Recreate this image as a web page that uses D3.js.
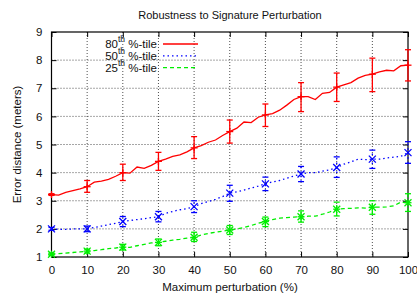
<!DOCTYPE html>
<meta charset="utf-8">
<style>
body { margin: 0; background: #fff; }
svg { font-family: "Liberation Sans", Arial, sans-serif; }
</style>
<svg width="417" height="297"></svg>
<script src="https://d3js.org/d3.v7.min.js"></script>
<script>
// perturbation levels (%), sampled every 2
var xs = d3.range(0, 101, 2);
var p80 = [3.22, 3.2, 3.3, 3.36, 3.42, 3.5, 3.66, 3.7, 3.76, 3.87, 4.0, 3.98, 4.2, 4.15, 4.26, 4.4,
  4.48, 4.58, 4.63, 4.74, 4.88, 4.96, 5.08, 5.16, 5.32, 5.46, 5.58, 5.8, 5.78, 5.97, 6.05, 6.1,
  6.22, 6.4, 6.6, 6.7, 6.7, 6.6, 6.82, 6.85, 7.04, 7.12, 7.2, 7.36, 7.46, 7.5, 7.58, 7.64, 7.62, 7.8, 7.82];
var p50 = [2.0, 1.98, 1.98, 2.0, 2.0, 2.0, 2.05, 2.1, 2.15, 2.2, 2.26, 2.3, 2.33, 2.36, 2.4, 2.43,
  2.55, 2.62, 2.68, 2.72, 2.79, 2.9, 2.97, 3.05, 3.15, 3.27, 3.32, 3.38, 3.45, 3.52, 3.6, 3.67,
  3.72, 3.8, 3.88, 3.95, 4.0, 4.0, 4.05, 4.1, 4.18, 4.3, 4.38, 4.48, 4.46, 4.48, 4.48, 4.52, 4.55, 4.58, 4.71];
var p25 = [1.1, 1.12, 1.14, 1.16, 1.18, 1.21, 1.23, 1.26, 1.3, 1.32, 1.35, 1.34, 1.4, 1.45, 1.5, 1.52,
  1.56, 1.6, 1.63, 1.67, 1.7, 1.78, 1.84, 1.88, 1.92, 1.96, 2.0, 2.05, 2.12, 2.2, 2.26, 2.33,
  2.38, 2.4, 2.42, 2.43, 2.45, 2.45, 2.52, 2.6, 2.7, 2.72, 2.73, 2.75, 2.74, 2.77, 2.77, 2.78, 2.82, 2.95, 2.93];

// error bars every 10%
var errX = d3.range(0, 101, 10);
var p80Lo = [3.19, 3.3, 3.72, 4.08, 4.5, 5.05, 5.64, 6.17, 6.53, 6.88, 7.26];
var p80Hi = [3.25, 3.72, 4.3, 4.72, 5.28, 5.87, 6.44, 7.2, 7.54, 8.07, 8.37];
var p50Lo = [1.95, 1.9, 2.08, 2.25, 2.58, 2.98, 3.36, 3.68, 3.83, 4.15, 4.33];
var p50Hi = [2.05, 2.1, 2.44, 2.62, 3.0, 3.55, 3.84, 4.22, 4.56, 4.8, 5.1];
var p25Lo = [1.06, 1.14, 1.25, 1.4, 1.55, 1.8, 2.08, 2.24, 2.46, 2.52, 2.62];
var p25Hi = [1.14, 1.28, 1.45, 1.64, 1.88, 2.12, 2.42, 2.64, 2.95, 3.0, 3.25];

var xTicks = d3.range(0, 101, 10);
var yTicks = d3.range(1, 10, 1);

var svg = d3.select("svg");
var mLeft = 51.5, mRight = 408, mTop = 32, mBottom = 257;

var x = d3.scaleLinear().domain([0, 100]).range([mLeft, mRight]);
var y = d3.scaleLinear().domain([1, 9]).range([mBottom, mTop]);

//grid
svg.append("g").selectAll("line").data(xTicks.slice(1, -1)).enter().append("line")
    .attr("x1", function(d) { return x(d); }).attr("x2", function(d) { return x(d); })
    .attr("y1", mTop).attr("y2", mBottom)
    .attr("stroke", "#000").attr("stroke-width", 0.7).attr("stroke-dasharray", "1,2");
svg.append("g").selectAll("line").data(yTicks.slice(1, -1)).enter().append("line")
    .attr("y1", function(d) { return y(d); }).attr("y2", function(d) { return y(d); })
    .attr("x1", mLeft).attr("x2", mRight)
    .attr("stroke", "#000").attr("stroke-width", 0.7).attr("stroke-dasharray", "1,2");

//axes with inward ticks (mirrored)
var ax = [
  d3.axisBottom(x).tickValues(xTicks).tickSizeInner(-5).tickSizeOuter(0).tickPadding(9),
  d3.axisLeft(y).tickValues(yTicks).tickSizeInner(-5).tickSizeOuter(0).tickPadding(9),
  d3.axisTop(x).tickValues(xTicks).tickSizeInner(-5).tickSizeOuter(0).tickFormat(""),
  d3.axisRight(y).tickValues(yTicks).tickSizeInner(-5).tickSizeOuter(0).tickFormat("")
];
var pos = ["translate(0," + mBottom + ")", "translate(" + mLeft + ",0)", "translate(0," + mTop + ")", "translate(" + mRight + ",0)"];
ax.forEach(function(a, i) {
  var g = svg.append("g").attr("transform", pos[i]).call(a);
  g.select(".domain").remove();
  g.selectAll("line").attr("stroke", "#000");
  g.selectAll("text").attr("font-size", 11.5).attr("fill", "#111").attr("font-family", "Liberation Sans, Arial, sans-serif");
});
svg.append("rect").attr("x", mLeft).attr("y", mTop).attr("width", mRight - mLeft).attr("height", mBottom - mTop)
    .attr("fill", "none").attr("stroke", "#000").attr("stroke-width", 1.2);

// series
var series = [
  {name: "80", vals: p80, lo: p80Lo, hi: p80Hi, color: "#ff0000", dash: null, mark: "+"},
  {name: "50", vals: p50, lo: p50Lo, hi: p50Hi, color: "#0000ff", dash: "1.5,3", mark: "x"},
  {name: "25", vals: p25, lo: p25Lo, hi: p25Hi, color: "#00ee00", dash: "4,3", mark: "*"}
];

var line = d3.line().x(function(d) { return x(d[0]); }).y(function(d) { return y(d[1]); });

series.forEach(function(s) {
  var g = svg.append("g").attr("stroke", s.color).attr("fill", "none").attr("stroke-width", 1.3);
  g.append("path").datum(xs.map(function(v, i) { return [v, s.vals[i]]; }))
      .attr("d", line).attr("stroke-dasharray", s.dash);
  errX.forEach(function(v, i) {
    var cx = x(v), cy = y(s.vals[xs.indexOf(v)]);
    var y0 = y(s.lo[i]), y1 = y(s.hi[i]);
    g.append("line").attr("x1", cx).attr("x2", cx).attr("y1", y0).attr("y2", y1).attr("stroke-dasharray", s.dash);
    g.append("line").attr("x1", cx - 3).attr("x2", cx + 3).attr("y1", y0).attr("y2", y0);
    g.append("line").attr("x1", cx - 3).attr("x2", cx + 3).attr("y1", y1).attr("y2", y1);
    var r = 3.5;
    if (s.mark == "+" || s.mark == "*") {
      g.append("line").attr("x1", cx - r).attr("x2", cx + r).attr("y1", cy).attr("y2", cy);
      g.append("line").attr("x1", cx).attr("x2", cx).attr("y1", cy - r).attr("y2", cy + r);
    }
    if (s.mark == "x" || s.mark == "*") {
      g.append("line").attr("x1", cx - r).attr("x2", cx + r).attr("y1", cy - r).attr("y2", cy + r);
      g.append("line").attr("x1", cx - r).attr("x2", cx + r).attr("y1", cy + r).attr("y2", cy - r);
    }
  });
});

// legend
var leg = svg.append("g");
series.forEach(function(s, i) {
  var ly = 44 + i * 11.8;
  var t = leg.append("text").attr("x", 157).attr("y", ly + 4).attr("text-anchor", "end")
      .attr("font-size", 11.5).attr("fill", "#111");
  t.append("tspan").text(s.name);
  t.append("tspan").attr("dy", -6).attr("font-size", 8.5).text("th");
  t.append("tspan").attr("dy", 6).text("\u00a0%-tile");
  leg.append("line").attr("x1", 163).attr("x2", 198).attr("y1", ly).attr("y2", ly)
      .attr("stroke", s.color).attr("stroke-width", 1.3).attr("stroke-dasharray", s.dash);
});

// titles
svg.append("text").attr("x", 230).attr("y", 19).attr("text-anchor", "middle")
    .attr("font-size", 11).attr("fill", "#111").text("Robustness to Signature Perturbation");
svg.append("text").attr("x", 230).attr("y", 291).attr("text-anchor", "middle")
    .attr("font-size", 11.5).attr("fill", "#111").text("Maximum perturbation (%)");
svg.append("text").attr("transform", "translate(21," + ((mTop + mBottom) / 2) + ") rotate(-90)")
    .attr("text-anchor", "middle").attr("font-size", 11.5).attr("fill", "#111").text("Error distance (meters)");
</script>
